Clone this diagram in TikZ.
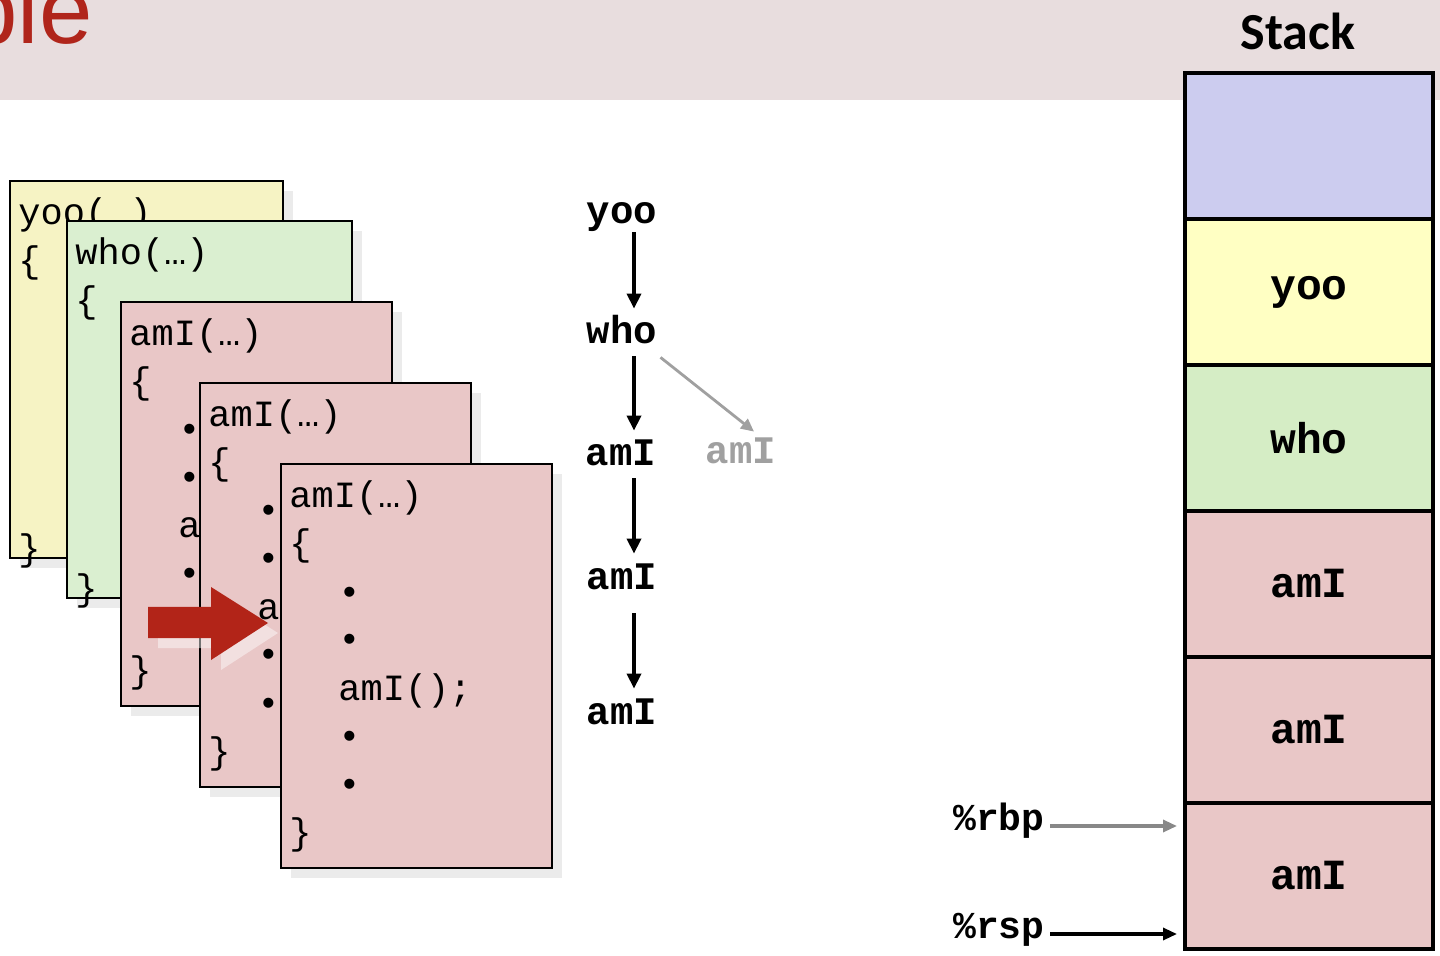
\documentclass[tikz,border=0pt]{standalone}
\usepackage{fontspec}
\usepackage{tikz}
\usetikzlibrary{
	arrows.meta,
	positioning,
	shadows
}
\newfontfamily\codefont{Liberation Mono}
\newfontfamily\titlefont{Carlito}
\newfontfamily\headfont{Liberation Sans}
\definecolor{BandGray}{RGB}{232,221,222}
\definecolor{TitleRed}{RGB}{176,37,27}
\definecolor{YooYellow}{RGB}{246,243,196}
\definecolor{WhoGreen}{RGB}{218,239,208}
\definecolor{AmIPink}{RGB}{233,199,199}
\definecolor{StackBlue}{RGB}{204,204,239}
\definecolor{StackYellow}{RGB}{255,255,195}
\definecolor{StackGreen}{RGB}{213,237,197}
\definecolor{ArrowRed}{RGB}{178,36,24}
\definecolor{CallGray}{RGB}{160,160,160}

\begin{document}
\begin{tikzpicture}[x=0.5pt, y=-0.5pt,
	frame/.style={draw=black, line width=0.8pt,
		drop shadow={shadow xshift=5pt, shadow yshift=-5pt, fill=black, opacity=0.08}},
	code/.style={font=\codefont\fontsize{18.5}{20}\selectfont, anchor=base west, inner sep=0pt},
	call/.style={font=\codefont\bfseries\fontsize{19.5}{21}\selectfont, inner sep=0pt,
		anchor=base, text height=10pt, text depth=0pt},
	callarrow/.style={line width=1.8pt, -{Triangle[length=7.5pt,width=7pt]},
		shorten <=6pt, shorten >=7.5pt},
	cell/.style={draw=black, line width=1.7pt, outer sep=0pt, inner sep=0pt,
		minimum width=124pt, minimum height=73pt,
		font=\codefont\bfseries\fontsize{21.5}{23}\selectfont},
	reg/.style={font=\codefont\bfseries\fontsize{19}{21}\selectfont, inner sep=0pt, anchor=mid east},
	regarrow/.style={line width=1.6pt, -{Triangle[length=7pt,width=6pt]},
		shorten <=2.5pt, shorten >=4pt}
]
	\useasboundingbox (0,0) rectangle (1440,956);
	% title band
	\fill[BandGray] (0,0) rectangle (1440,100);
	\node[font=\headfont\fontsize{48}{50}\selectfont, text=TitleRed, anchor=base west, inner sep=0pt]
		(heading) at (-36,44) {ple};

	% code frames
	\draw[frame, fill=YooYellow] (10,181) rectangle ++(273,377);
	\node[code] (yoohead) at (18,225) {yoo(…)};
	\node[code] (yooopen) at (18,273) {\{};
	\node[code] (yooclose) at (18,561) {\}};

	\draw[frame, fill=WhoGreen] (67,221) rectangle ++(285,377);
	\node[code] (whohead) at (75,265) {who(…)};
	\node[code] (whoopen) at (75,313) {\{};
	\node[code] (whoclose) at (75,601) {\}};

	\foreach \fx/\fy/\k in {121/302/1, 200/383/2, 281/464/3}{
		\begin{scope}[shift={(\fx,\fy)}]
			\draw[frame, fill=AmIPink] (0,0) rectangle (271,404);
			\node[code] (amihead\k) at (8,44) {amI(…)};
			\node[code] (amiopen\k) at (8,92) {\{};
			\foreach \r in {2,3,5,6}
				\node[code] (dot\k\r) at (57,{44+48*\r}) {•};
			\node[code] (amicall\k) at (57,236) {amI();};
			\node[code] (amiclose\k) at (8,380) {\}};
		\end{scope}
	}

	% red arrow
	\fill[white, opacity=0.45] (158,617) -- (221,617) -- (221,597) -- (278,633)
		-- (221,670) -- (221,648) -- (158,648) -- cycle;
	\fill[ArrowRed] (148,607) -- (211,607) -- (211,587) -- (268,623)
		-- (211,660) -- (211,638) -- (148,638) -- cycle;

	% call chain
	\node[call] (cyoo) at (622,224) {yoo};
	\node[call] (cwho) at (622,344) {who};
	\node[call] (cami1) at (621,466) {amI};
	\node[call] (cami2) at (622,589) {amI};
	\node[call] (cami3) at (622,724) {amI};
	\node[call, text=CallGray] (cgray) at (741,464) {amI};
	\draw[callarrow, shorten <=4pt] ([xshift=6pt]cyoo.south) -- ([xshift=6pt]cwho.north);
	\draw[callarrow] ([xshift=6pt]cwho.south) -- ([xshift=6.5pt]cami1.north);
	\draw[callarrow] ([xshift=6.5pt]cami1.south) -- ([xshift=6pt]cami2.north);
	\draw[callarrow, shorten <=12pt] ([xshift=6pt]cami2.south) -- ([xshift=6pt]cami3.north);
	\draw[line width=1.4pt, CallGray, -{Triangle[length=6.5pt,width=6pt]}]
		([xshift=1.5pt,yshift=-6.5pt]cwho.south east) -- ([xshift=6.5pt,yshift=6pt]cgray.north);

	% stack
	\node[cell, fill=StackBlue] (sfree) at (1309,146) {};
	\node[cell, fill=StackYellow, below=0pt of sfree] (syoo) {yoo};
	\node[cell, fill=StackGreen, below=0pt of syoo] (swho) {who};
	\node[cell, fill=AmIPink, below=0pt of swho] (sami1) {amI};
	\node[cell, fill=AmIPink, below=0pt of sami1] (sami2) {amI};
	\node[cell, fill=AmIPink, below=0pt of sami2] (sami3) {amI};
	\node[font=\titlefont\bfseries\fontsize{26}{28}\selectfont, anchor=base, inner sep=0pt]
		(stacktitle) at (1298,50) {Stack};

	% registers
	\node[reg] (rbp) at (1045,826) {\%rbp};
	\node[reg] (rsp) at (1045,934) {\%rsp};
	\draw[regarrow, CallGray!85!black] (rbp.mid east) -- (rbp.mid east -| sami3.west);
	\draw[regarrow] (rsp.mid east) -- (rsp.mid east -| sami3.west);
\end{tikzpicture}
\end{document}
